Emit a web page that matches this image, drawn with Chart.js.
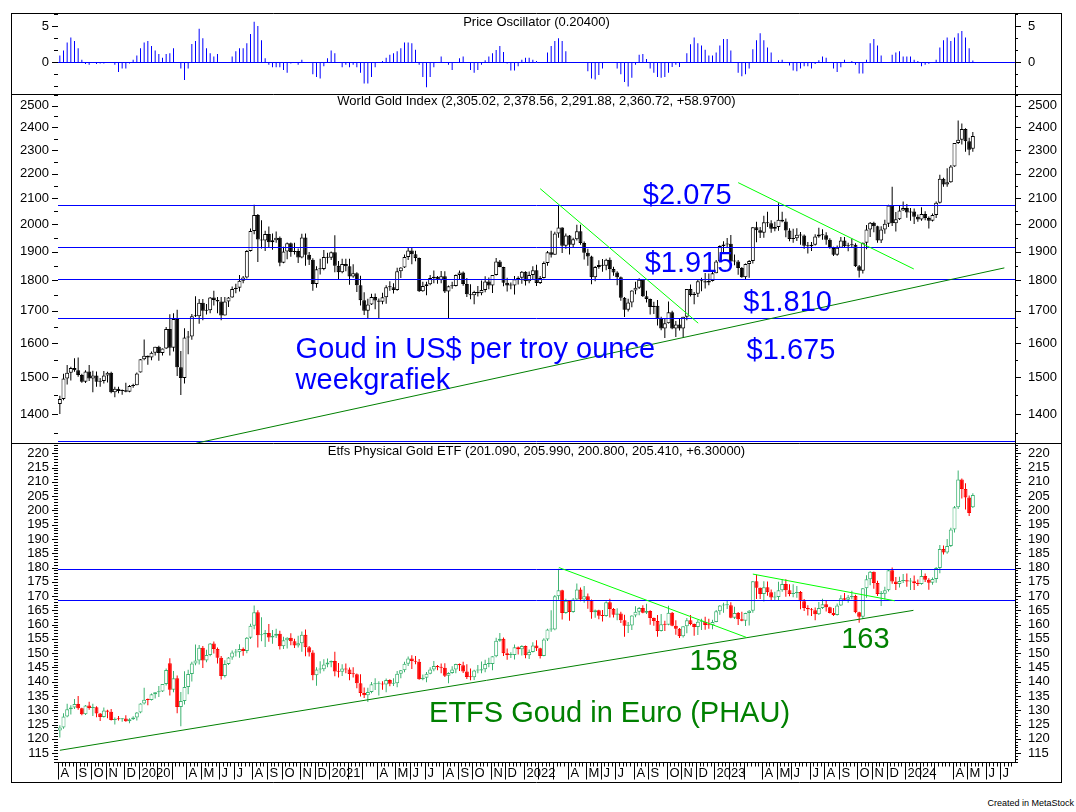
<!DOCTYPE html>
<html>
<head>
<meta charset="utf-8">
<script src="https://cdn.jsdelivr.net/npm/chart.js@4.4.1/dist/chart.umd.min.js"></script>
<style>
  body { margin: 0; background: #fff; width: 1076px; height: 812px; overflow: hidden; position: relative; }
  canvas { position: absolute; left: 11px; }
  #osc { top: 13px; }
  #gold { top: 94px; }
  #etf { top: 443px; }
  #credit { position: absolute; right: 2px; top: 798px; font: 9px "Liberation Sans", Arial, sans-serif; color: #000; }
</style>
</head>
<body>
<canvas id="osc" width="1051" height="81"></canvas>
<canvas id="gold" width="1051" height="349"></canvas>
<canvas id="etf" width="1051" height="340"></canvas>
<div id="credit">Created in MetaStock</div>
<script>
const FONT = '"Liberation Sans", Arial, sans-serif';

// weekly bars, first one is the week ending 2 Aug 2019
const firstWeek = '2019-08-02';
const weekCount = 261;
const monthLetters = ['J', 'F', 'M', 'A', 'M', 'J', 'J', 'A', 'S', 'O', 'N', 'D'];

const goldOpen = [
  1427,1440,1497,1513,1527,1520,1507,1488,1517,1497,1505,1488,1490,1505,1513,1459,1468,1462,1464,1460,1476,1478,
  1514,1552,1562,1557,1571,1589,1570,1584,1643,1586,1674,1529,1498,1617,1620,1683,1683,1726,1700,1702,1743,1735,1730,1685,1730,1743,1771,1775,1799,1810,1902,1975,2035,1944,1940,1964,1934,1941,1950,1861,1900,1930,1899,1902,1879,1951,1889,1871,1788,1838,1839,1881,
  1878,1898,1850,1828,1856,1848,1813,1824,1784,1734,1700,1720,1745,1733,1729,1744,1777,1777,1768,1831,1844,1881,1904,1891,1877,1764,1781,1787,1808,1812,1802,1814,1763,1780,1781,1818,1827,1788,1754,1750,1761,1757,1768,1796,1783,1818,1865,1846,1792,1783,1783,1804,1809,
  1829,1797,1818,1835,1791,1808,1860,1898,1889,1966,1988,1921,1958,1925,1945,1974,1931,1896,1883,1811,1846,1853,1850,1871,1839,1827,1811,1742,1703,1727,1766,1775,1802,1747,1738,1712,1716,1675,1644,1661,1695,1644,1657,1644,1681,1771,1751,1755,1797,1797,1793,1798,
  1824,1865,1920,1926,1928,1865,1865,1842,1811,1856,1867,1989,1978,1969,2008,2004,1983,1990,2017,2011,1977,1946,1948,1961,1958,1921,1919,1925,1955,1962,1959,1943,1913,1889,1914,1940,1919,1923,1925,1848,1833,1932,1981,2006,1993,1940,1981,2002,2072,2004,2019,2053,
  2062,2045,2049,2029,2018,2039,2024,2013,2035,2083,2179,2155,2165,2230,2330,2344,2392,2338,2305
];
const goldHigh = [
  1449,1510,1535,1530,1555,1557,1510,1520,1535,1519,1517,1498,1518,1516,1516,1474,1474,1466,1485,1479,1482,1514,
  1553,1611,1563,1575,1589,1592,1584,1649,1689,1692,1703,1576,1645,1637,1690,1747,1738,1738,1722,1745,1765,1745,1745,1745,1745,1779,1789,1818,1815,1906,1984,2075,2039,2015,1976,1992,1966,1973,1955,1917,1933,1933,1932,1911,1965,1966,1899,1876,1848,1875,1906,1896,
  1900,1959,1867,1875,1875,1875,1855,1828,1816,1760,1739,1755,1756,1740,1759,1784,1797,1790,1843,1845,1890,1913,1916,1903,1879,1795,1795,1818,1834,1815,1832,1831,1783,1795,1820,1834,1830,1808,1787,1765,1781,1800,1814,1810,1818,1877,1870,1847,1809,1793,1815,1814,1832,
  1831,1830,1848,1854,1815,1865,1902,1976,1972,2070,1989,1966,1960,1950,1998,1998,1936,1910,1885,1849,1869,1874,1875,1879,1847,1831,1813,1745,1739,1767,1795,1807,1804,1765,1740,1729,1735,1681,1676,1730,1700,1668,1675,1681,1771,1786,1761,1804,1809,1825,1823,1833,
  1870,1923,1937,1949,1960,1890,1870,1846,1858,1870,1990,2010,1990,2032,2048,2015,2010,2081,2048,2022,1985,1983,1985,1971,1962,1935,1935,1963,1987,1982,1970,1948,1917,1922,1953,1953,1932,1947,1930,1853,1933,1997,2009,2010,1995,1993,2017,2075,2146,2047,2070,2088,
  2078,2062,2060,2037,2065,2050,2030,2041,2088,2195,2183,2222,2236,2330,2431,2417,2396,2353,2379
];
const goldLow = [
  1400,1437,1480,1491,1516,1502,1485,1484,1490,1459,1474,1474,1483,1486,1456,1445,1456,1452,1459,1459,1471,1478,
  1514,1549,1536,1549,1563,1548,1563,1582,1563,1575,1504,1451,1483,1567,1610,1680,1659,1670,1688,1692,1717,1692,1670,1685,1712,1742,1757,1763,1790,1806,1900,1963,1863,1911,1902,1916,1907,1932,1848,1859,1873,1882,1890,1860,1876,1850,1853,1765,1775,1820,1835,1858,
  1870,1828,1803,1824,1831,1785,1809,1761,1717,1687,1676,1719,1705,1677,1721,1723,1765,1756,1765,1808,1842,1870,1855,1866,1761,1762,1750,1784,1790,1789,1790,1758,1677,1772,1779,1802,1782,1745,1737,1721,1746,1750,1760,1770,1758,1817,1845,1780,1763,1770,1753,1786,1789,
  1783,1790,1805,1781,1788,1806,1850,1879,1889,1950,1895,1910,1890,1915,1940,1925,1872,1850,1787,1797,1840,1829,1835,1805,1816,1784,1732,1680,1698,1711,1754,1771,1745,1727,1688,1690,1654,1639,1615,1660,1642,1618,1638,1616,1670,1746,1721,1745,1764,1773,1784,1796,
  1824,1865,1896,1913,1862,1852,1819,1809,1804,1809,1858,1934,1949,1950,1990,1969,1974,1976,2008,1952,1937,1932,1938,1925,1910,1893,1902,1922,1950,1943,1925,1910,1884,1885,1914,1915,1901,1913,1846,1810,1823,1908,1953,1970,1932,1931,1965,1990,1994,1973,2016,2052,
  2025,2013,2001,2010,2013,2015,1984,2011,2024,2080,2146,2146,2163,2228,2326,2324,2292,2277,2292
];
const goldClose = [
  1440,1497,1513,1527,1520,1507,1488,1517,1497,1505,1488,1490,1505,1513,1459,1468,1462,1464,1460,1476,1478,1511,
  1552,1562,1557,1571,1589,1570,1584,1643,1586,1674,1529,1498,1617,1620,1683,1683,1726,1700,1702,1743,1735,1730,1685,1730,1743,1771,1775,1799,1810,1902,1975,2035,1944,1940,1964,1934,1941,1950,1861,1900,1930,1899,1902,1879,1951,1889,1871,1788,1838,1839,1881,1878,
  1898,1850,1828,1856,1848,1813,1824,1784,1734,1700,1720,1745,1733,1729,1744,1777,1777,1768,1831,1844,1881,1904,1891,1877,1764,1781,1787,1808,1812,1802,1814,1763,1780,1781,1818,1827,1788,1754,1750,1761,1757,1768,1796,1783,1818,1865,1846,1792,1783,1783,1804,1809,1829,
  1797,1818,1835,1791,1808,1860,1898,1889,1966,1988,1921,1958,1925,1945,1974,1931,1896,1883,1811,1846,1853,1850,1871,1839,1827,1811,1742,1703,1727,1766,1775,1802,1747,1738,1712,1716,1675,1644,1661,1695,1644,1657,1644,1681,1771,1751,1755,1797,1797,1793,1798,1824,
  1865,1920,1926,1928,1865,1865,1842,1811,1856,1867,1989,1978,1969,2008,2004,1983,1990,2017,2011,1977,1946,1948,1961,1958,1921,1919,1925,1955,1962,1959,1943,1913,1889,1914,1940,1919,1923,1925,1848,1833,1932,1981,2006,1993,1940,1981,2002,2072,2004,2019,2053,2062,
  2045,2049,2029,2018,2039,2024,2013,2035,2083,2179,2155,2165,2230,2330,2344,2392,2338,2301,2361
];

const etfOpen = [
  122.9,124.0,127.8,130.4,131.0,132.2,130.7,128.6,131.7,130.8,131.1,128.9,127.7,129.9,129.5,126.6,127.0,126.9,127.1,126.2,126.9,127.5,
  129.2,132.4,133.7,133.6,135.6,136.3,136.6,139.2,146.5,137.2,141.2,131.2,133.3,138.2,142.7,146.4,147.4,151.9,147.4,149.4,153.4,151.5,148.4,142.0,146.2,148.5,150.2,150.3,151.5,150.8,155.4,159.6,164.3,156.3,156.6,157.1,155.5,156.1,156.8,152.4,154.5,155.4,154.2,152.7,153.5,156.5,152.1,150.2,142.3,144.3,144.4,146.0,
  146.7,147.3,143.6,143.5,144.6,144.3,142.7,142.6,139.5,136.1,135.3,136.4,139.1,139.3,139.4,139.0,140.6,139.3,139.5,142.8,144.0,146.3,148.1,147.3,147.0,140.9,141.4,142.8,144.3,145.5,145.1,144.9,142.1,143.1,144.3,146.2,145.8,143.6,141.7,141.6,143.9,143.9,144.4,146.2,146.2,148.9,154.4,155.1,150.0,149.4,149.4,152.1,151.4,
  152.5,149.3,150.4,152.7,151.7,149.0,154.8,158.3,158.3,169.9,172.0,164.1,168.4,164.4,168.8,172.3,168.8,169.9,168.5,164.3,165.0,163.1,163.0,167.8,165.5,163.5,163.9,161.5,159.6,159.7,163.2,164.5,165.8,164.2,164.8,162.3,161.3,157.8,160.1,160.0,164.2,159.6,158.6,155.9,159.4,161.5,160.2,159.2,161.0,161.0,159.9,159.8,
  160.9,164.7,166.7,166.8,166.8,162.4,164.1,161.9,161.4,164.1,164.9,175.2,172.9,170.7,173.1,171.3,169.5,169.7,172.0,174.2,172.0,170.7,171.0,171.4,168.2,165.8,165.4,165.0,163.6,165.8,167.1,166.1,164.1,163.4,166.7,169.2,168.7,169.6,170.0,164.3,162.8,172.7,175.9,178.5,174.6,170.7,170.8,172.0,179.0,175.1,174.2,175.3,
  175.5,175.1,175.2,174.5,174.2,177.0,175.7,174.7,176.0,179.8,186.5,185.3,187.5,193.3,201.1,210.8,207.5,204.5,201.09
];
const etfHigh = [
  124.8,129.0,132.3,131.8,134.0,135.0,130.9,131.9,133.0,132.3,131.4,129.1,131.0,130.2,130.5,127.5,128.0,127.3,128.3,127.2,127.9,129.4,
  132.5,137.9,134.1,135.9,136.3,138.5,139.2,144.6,148.2,143.8,142.2,136.4,143.7,144.2,147.0,153.0,152.9,152.5,151.2,153.6,154.1,152.0,149.0,147.5,148.7,150.9,151.5,153.1,152.0,155.7,160.3,166.7,165.0,162.6,158.1,160.2,158.1,158.6,157.9,155.8,155.6,157.0,155.1,156.1,157.6,158.3,152.5,151.0,145.1,147.2,147.9,148.1,
  147.4,150.5,146.6,146.1,146.4,145.0,145.1,142.9,142.6,138.0,137.9,139.9,141.2,140.2,140.2,141.1,140.9,141.2,143.8,144.1,147.0,148.8,149.3,149.0,148.0,142.5,143.4,145.1,147.3,145.9,146.4,146.5,143.3,145.4,146.3,146.4,147.0,146.1,144.6,144.2,145.9,147.1,147.7,148.4,148.9,155.4,157.1,155.5,151.6,150.3,153.0,152.3,152.8,
  152.7,151.3,153.8,154.5,151.9,155.2,158.6,165.0,170.4,179.6,172.2,169.1,168.6,169.3,174.4,173.0,173.5,170.9,168.8,165.3,165.2,165.1,168.2,169.1,165.8,165.7,164.5,163.5,160.9,163.3,166.4,166.2,166.8,167.3,165.0,162.5,163.4,163.7,161.4,166.6,164.4,161.5,158.8,159.4,162.3,163.4,160.4,161.6,162.1,162.8,162.1,161.7,
  165.1,166.9,167.7,168.6,167.8,166.3,164.4,164.5,164.2,165.1,175.3,177.5,173.0,175.2,175.1,172.3,171.5,175.0,176.0,175.9,174.1,174.1,173.5,171.8,169.0,166.8,165.8,166.0,167.9,169.1,168.4,166.3,165.8,167.4,170.3,171.1,170.4,171.9,170.5,164.5,172.8,177.3,178.8,178.6,175.4,171.8,173.3,179.3,180.0,176.7,176.8,177.7,
  177.9,176.3,177.2,175.8,179.2,177.9,176.2,176.5,180.2,187.9,187.7,190.0,193.9,201.5,214.0,211.2,209.5,205.2,205.99
];
const etfLow = [
  120.5,123.5,127.6,128.5,130.5,130.2,128.3,128.4,130.2,128.0,127.6,126.3,127.5,127.2,126.4,125.0,126.4,126.0,126.0,125.5,126.6,126.4,
  129.0,132.0,131.8,133.4,134.1,134.7,136.4,138.7,135.2,136.3,129.0,124.4,132.0,135.6,140.1,145.8,146.0,144.8,146.8,148.9,149.9,146.4,140.8,141.5,145.9,147.7,148.8,148.4,149.1,150.0,155.0,158.4,152.0,154.2,152.2,154.0,153.3,155.3,151.3,151.5,151.6,152.8,151.8,152.0,150.5,148.9,148.8,140.5,138.6,142.9,143.7,145.1,
  145.1,141.9,141.5,142.0,143.0,140.5,141.5,137.7,134.8,134.3,132.9,136.0,137.1,135.2,137.2,136.3,138.4,138.5,138.1,141.2,143.3,145.5,144.5,146.1,140.7,140.5,139.8,142.6,143.7,144.0,143.0,141.7,139.5,142.8,143.0,143.8,143.1,141.0,140.5,140.6,143.0,143.0,143.3,145.1,144.0,148.6,154.0,149.0,147.7,148.3,147.8,149.5,149.2,
  148.2,148.0,150.2,150.8,148.1,148.9,154.3,157.5,158.0,168.7,161.8,163.8,161.4,164.2,168.5,168.2,167.7,165.6,162.1,162.4,161.9,161.1,162.8,162.5,162.5,161.5,160.6,155.8,157.1,158.1,162.6,163.3,164.0,163.7,160.0,159.6,155.8,157.6,157.8,159.8,159.4,156.5,155.3,155.5,157.0,159.8,156.1,156.4,158.1,158.2,158.6,158.4,
  160.8,163.5,164.2,165.5,162.2,162.0,159.9,161.2,159.5,159.7,164.2,169.0,169.0,168.1,170.1,168.3,168.4,168.6,171.5,169.8,169.9,169.6,169.4,165.4,164.8,163.2,163.0,161.5,163.4,165.5,164.6,163.9,163.0,163.2,166.5,168.3,167.7,168.9,164.0,160.7,162.0,169.4,173.8,172.6,170.0,166.5,168.8,171.6,174.3,172.1,173.0,174.6,
  173.3,172.1,172.1,173.5,174.0,174.9,172.2,174.0,174.7,178.0,184.6,184.8,187.2,192.3,200.5,204.2,200.3,198.0,200.80
];
const etfClose = [
  124.0,127.8,130.4,131.0,132.2,130.7,128.6,131.7,130.8,131.1,128.9,127.7,129.9,129.5,126.6,127.0,126.9,127.1,126.2,126.9,127.5,129.2,
  132.4,133.7,133.6,135.6,136.3,136.6,139.2,144.1,137.2,141.2,131.2,133.3,138.2,142.7,146.4,147.4,151.9,147.4,149.4,153.4,151.5,148.4,142.0,146.2,148.5,150.2,150.3,151.5,150.8,155.4,159.6,164.3,156.3,156.6,157.1,155.5,156.1,156.8,152.4,154.5,155.4,154.2,152.7,153.5,156.5,152.1,150.2,142.3,144.3,144.4,146.0,146.7,
  147.3,143.6,143.5,144.6,144.3,142.7,142.6,139.5,136.1,135.3,136.4,139.1,139.3,139.4,139.0,140.6,139.3,139.5,142.8,144.0,146.3,148.1,147.3,147.0,140.9,141.4,142.8,144.3,145.5,145.1,144.9,142.1,143.1,144.3,146.2,145.8,143.6,141.7,141.6,143.9,143.9,144.4,146.2,146.2,148.9,154.4,155.1,150.0,149.4,149.4,152.1,151.4,152.5,
  149.3,150.4,152.7,151.7,149.0,154.8,158.3,158.3,169.9,172.0,164.1,168.4,164.4,168.8,172.3,168.8,169.9,168.5,164.3,165.0,163.1,163.0,167.8,165.5,163.5,163.9,161.5,159.6,159.7,163.2,164.5,165.8,164.2,164.8,162.3,161.3,157.8,160.1,160.0,164.2,159.6,158.6,155.9,159.4,161.5,160.2,159.2,161.0,161.0,159.9,159.8,160.9,
  164.7,166.7,166.8,166.8,162.4,164.1,161.9,161.4,164.1,164.9,175.2,172.9,170.7,173.1,171.3,169.5,169.7,172.0,174.2,172.0,170.7,171.0,171.4,168.2,165.8,165.4,165.0,163.6,165.8,167.1,166.1,164.1,163.4,166.7,169.2,168.7,169.6,170.0,164.3,162.8,172.7,175.9,178.5,174.6,170.7,170.8,172.0,179.0,175.1,174.2,175.3,175.5,
  175.1,175.2,174.5,174.2,177.0,175.7,174.7,176.0,179.8,186.5,185.3,187.5,193.3,201.1,210.8,207.5,204.5,199.1,205.41
];

const oscValues = [
  0.9,1.6,2.7,3.4,2.9,1.9,0.3,-0.3,-0.4,0,
  -0.3,-0.2,-0.2,0,0,-0.4,-1.4,-0.9,-0.9,-0.2,
  0.3,0.9,1.9,2.7,2.9,2.2,1.6,1.1,0.6,1.1,
  1.2,1.9,0,-0.9,-2.5,-0.9,2.5,2.9,4.6,3.3,
  1.9,1.2,0.75,1.1,0,0,-0.1,0.75,1.5,1.9,
  1.9,2.6,3.9,5.6,5.0,3.0,0.5,-0.4,-0.75,-0.75,
  -0.75,-1.1,-1.5,-0.2,0,-0.4,0.3,0,0,-1.7,
  -2.1,-2.3,-0.6,0.5,1.6,1.2,0,-0.75,-0.4,-0.75,
  -0.4,-0.75,-1.5,-3.0,-3.0,-2.1,-0.75,0,0.15,0.6,
  1.0,1.2,1.5,1.9,2.7,2.7,2.6,1.7,-0.4,-2.1,
  -3.5,-2.1,-0.75,0,0.75,0,-0.4,-1.1,0,0.5,
  0.75,0,-1.1,-1.5,-1.1,-0.4,0.25,0.75,1.2,1.65,
  2.2,1.4,-0.2,-1.2,-1.2,-0.6,0.3,0.6,0.6,0.3,
  0.15,0,0,1.3,2.2,2.9,3.3,2.9,1.5,0,
  0,-0.15,0,0,-1.3,-2.3,-2.45,-1.8,-0.9,0,
  0,0,-0.9,-1.7,-2.8,-3.4,-2.2,-0.4,1.0,1.1,
  0.4,-0.9,-1.5,-2.1,-2.2,-2.1,-1.5,-0.7,-0.4,-0.7,
  0,1.2,2.45,3.4,2.6,2.3,1.7,0.9,0.9,1.3,
  2.3,3.2,3.2,1.6,0,-1.5,-2.0,-1.7,-0.9,1.75,
  3.0,4.0,3.0,2.0,1.3,0,0.25,0.3,0,-0.5,
  -1.2,-1.3,-0.9,-0.6,-0.6,-0.9,-0.3,0.25,0.75,0.6,
  0,-0.9,-1.4,-0.75,0.3,0,0.15,-0.4,-1.6,-1.6,
  0.3,2.6,3.2,2.3,0.9,0,0,1.0,1.3,1.5,
  0.75,0.75,0.75,0.3,0.15,-0.6,-0.4,-0.25,-0.15,0.3,
  2.0,3.0,3.4,2.9,3.4,4.0,4.3,3.4,1.9,0.2
];

// axis labels
const oscTicks = [0, 5];
const goldTicks = [1400, 1500, 1600, 1700, 1800, 1900, 2000, 2100, 2200, 2300, 2400, 2500];
const etfTicks = [115, 120, 125, 130, 135, 140, 145, 150, 155, 160, 165, 170, 175, 180, 185, 190, 195, 200, 205, 210, 215, 220];

// drawn-in support / resistance levels and trend lines (bar index, value)
const goldLevels = [2075, 1915, 1803, 1678, 1330];
const etfLevels = [179.5, 168.6];
const DARK = '#008000', LIGHT = '#00FF00', BLUE = '#0000FF';
const goldTrends = [
  { x1: 37.2, y1: 1325.5, x2: 257.6, y2: 1842.7, color: DARK },
  { x1: 131.0, y1: 2138.6, x2: 174.1, y2: 1661, color: LIGHT },
  { x1: 185.0, y1: 2163, x2: 232.9, y2: 1839, color: LIGHT }
];
const etfTrends = [
  { x1: 0, y1: 116.0, x2: 232.8, y2: 165.0, color: DARK },
  { x1: 136.1, y1: 180.0, x2: 187.3, y2: 155.5, color: LIGHT },
  { x1: 189.0, y1: 177.7, x2: 227.7, y2: 168.35, color: LIGHT }
];
const goldNotes = [
  { text: '$2.075', x: 159.0, y: 2077 },
  { text: '$1.915', x: 159.5, y: 1828 },
  { text: '$1.810', x: 186.4, y: 1698 },
  { text: '$1.675', x: 187.3, y: 1553 },
  { text: 'Goud in US$ per troy ounce', x: 64.3, y: 1556 },
  { text: 'weekgrafiek', x: 64.3, y: 1468 }
];
const etfNotes = [
  { text: '158', x: 171.7, y: 144.1 },
  { text: '163', x: 213.1, y: 151.8 },
  { text: 'ETFS Goud in Euro (PHAU)', x: 100.7, y: 125.9 }
];

const weeks = [];
for (let i = 0; i < weekCount; i++) {
  const d = new Date(Date.parse(firstWeek + 'T00:00:00Z') + i * 7 * 86400000);
  weeks.push(d.toISOString().slice(0, 10));
}

function steps(from, to, step) {
  const out = [];
  for (let v = from; v <= to + 1e-9; v += step) out.push(+v.toFixed(4));
  return out;
}

function yAxis(pos, type, min, max, labels) {
  return {
    type: type,
    position: pos,
    min: min,
    max: max,
    grid: { display: false, drawTicks: false },
    border: { display: pos === 'right', color: '#000', width: 1 },
    afterBuildTicks: function (s) { s.ticks = labels.map(v => ({ value: v })); },
    afterFit: function (s) { s.width = 47; s.paddingTop = 0; s.paddingBottom = 0; },
    ticks: {
      autoSkip: false,
      color: '#000',
      font: { family: FONT, size: 13 },
      padding: pos === 'left' ? 9 : 13,
      callback: v => String(v)
    }
  };
}

function candles(o, h, l, c, up, down, upFill) {
  const isUp = o.map((v, i) => c[i] >= v);
  return [
    {
      data: l.map((v, i) => [v, h[i]]),
      backgroundColor: isUp.map(u => u ? up : down),
      barThickness: 1, grouped: false, inflateAmount: 0, order: 2
    },
    {
      data: o.map((v, i) => [v, c[i]]),
      backgroundColor: isUp.map(u => u ? upFill : down),
      borderColor: isUp.map(u => u ? up : down),
      borderWidth: 1, borderSkipped: false, minBarLength: 1,
      barThickness: 4, grouped: false, inflateAmount: 0, order: 1
    }
  ];
}

function line(ctx, x1, y1, x2, y2, color) {
  ctx.strokeStyle = color;
  ctx.beginPath();
  ctx.moveTo(x1, y1);
  ctx.lineTo(x2, y2);
  ctx.stroke();
}

function panel(cfg) {
  return {
    id: 'panel',
    afterDatasetsDraw(chart) {
      const { ctx, chartArea: a, scales } = chart;
      const x = scales.x, y = scales.y;
      ctx.save();
      ctx.beginPath();
      ctx.rect(a.left, a.top, a.right - a.left, a.bottom - a.top);
      ctx.clip();
      ctx.lineWidth = 1;
      (cfg.levels || []).forEach(v => {
        const py = Math.round(y.getPixelForValue(v)) + 0.5;
        line(ctx, a.left, py, a.right, py, BLUE);
      });
      (cfg.trends || []).forEach(t => {
        line(ctx, x.getPixelForValue(t.x1), y.getPixelForValue(t.y1),
          x.getPixelForValue(t.x2), y.getPixelForValue(t.y2), t.color);
      });
      ctx.font = '29px ' + FONT;
      ctx.textAlign = 'left';
      ctx.textBaseline = 'alphabetic';
      ctx.fillStyle = cfg.noteColor;
      (cfg.notes || []).forEach(n => {
        ctx.fillText(n.text, x.getPixelForValue(n.x), y.getPixelForValue(n.y));
      });
      ctx.restore();
    },
    afterDraw(chart) {
      const { ctx, chartArea: a, scales } = chart;
      const W = chart.width, H = chart.height;
      const y = scales.y;
      ctx.save();
      ctx.lineWidth = 1;
      line(ctx, 0, 0.5, W, 0.5, '#000');
      line(ctx, 0.5, 0, 0.5, H, '#000');
      line(ctx, W - 0.5, 0, W - 0.5, H, '#000');
      cfg.labels.forEach(v => {
        const py = Math.round(y.getPixelForValue(v)) + 0.5;
        line(ctx, a.left - 6, py, a.left, py, '#000');
        line(ctx, a.right, py, a.right + 6, py, '#000');
      });
      cfg.minor.forEach(v => {
        if (v < y.min || v > y.max) return;
        const py = Math.round(y.getPixelForValue(v)) + 0.5;
        line(ctx, a.left - 4, py, a.left, py, '#000');
        line(ctx, a.right, py, a.right + 3, py, '#000');
      });
      ctx.fillStyle = '#000';
      ctx.font = '13px ' + FONT;
      ctx.textAlign = 'center';
      ctx.textBaseline = 'middle';
      ctx.fillText(cfg.title, (a.left + a.right) / 2, cfg.titleY);

      if (cfg.timeAxis) {
        const x = scales.x;
        const step = x.getPixelForValue(1) - x.getPixelForValue(0);
        const base = Math.round(a.bottom) + 0.5;
        line(ctx, a.left, base, a.right, base, '#000');
        line(ctx, 0, H - 0.5, W, H - 0.5, '#000');
        ctx.textAlign = 'left';
        weeks.forEach((w, i) => {
          const bx = Math.round(x.getPixelForValue(i) - step / 2) + 0.5;
          const m = +w.slice(5, 7) - 1;
          const prev = i > 0 ? +weeks[i - 1].slice(5, 7) - 1 : -1;
          if (m !== prev) {
            line(ctx, bx, base, bx, base + 17, '#000');
            if (m !== 1 && m !== 2) {
              ctx.fillText(m === 0 ? w.slice(0, 4) : monthLetters[m], bx + 2, base + 11);
            }
          } else {
            line(ctx, bx, base, bx, base + 4, '#000');
          }
        });
      }
      ctx.restore();
    }
  };
}

function makeChart(id, datasets, yType, min, max, labels, cfg, bottomPad) {
  return new Chart(document.getElementById(id), {
    type: 'bar',
    data: { labels: weeks, datasets: datasets },
    options: {
      responsive: false,
      maintainAspectRatio: false,
      animation: false,
      events: [],
      layout: { padding: { left: 0, right: 0, top: 0, bottom: bottomPad } },
      plugins: { legend: { display: false }, tooltip: { enabled: false } },
      scales: {
        x: { type: 'category', offset: true, display: false },
        y: yAxis('left', yType, min, max, labels),
        y2: yAxis('right', yType, min, max, labels)
      }
    },
    plugins: [panel(cfg)]
  });
}

function buildAll() {
  const oscSet = {
    data: oscValues,
    backgroundColor: BLUE,
    barThickness: 1, grouped: false, inflateAmount: 0
  };
  const oscZero = {
    id: 'zero',
    beforeDatasetsDraw(chart) {
      const { ctx, chartArea: a } = chart;
      const py = Math.round(chart.scales.y.getPixelForValue(0)) + 0.5;
      ctx.save();
      ctx.lineWidth = 1;
      line(ctx, a.left, py, a.right, py, BLUE);
      ctx.restore();
    }
  };
  const osc = makeChart('osc', [oscSet], 'linear', -4.45, 6.8, oscTicks, {
    labels: oscTicks, minor: steps(-5, 7, 5 / 3), title: 'Price Oscillator (0.20400)', titleY: 9
  }, 0);
  osc.config.plugins.push(oscZero);
  osc.update();

  makeChart('gold', candles(goldOpen, goldHigh, goldLow, goldClose, '#000000', '#000000', '#FFFFFF'),
    'logarithmic', 1326, 2555, goldTicks, {
      labels: goldTicks, minor: steps(1350, 2550, 100),
      title: 'World Gold Index (2,305.02, 2,378.56, 2,291.88, 2,360.72, +58.9700)', titleY: 7,
      levels: goldLevels, trends: goldTrends, notes: goldNotes, noteColor: BLUE
    }, 0);

  makeChart('etf', candles(etfOpen, etfHigh, etfLow, etfClose, '#3CB371', '#FF0000', '#FFFFFF'),
    'linear', 111.9, 223.6, etfTicks, {
      labels: etfTicks, minor: steps(112, 223, 1),
      title: 'Etfs Physical Gold ETF (201.090, 205.990, 200.800, 205.410, +6.30000)', titleY: 8.5,
      levels: etfLevels, trends: etfTrends, notes: etfNotes, noteColor: DARK, timeAxis: true
    }, 21);
}

document.addEventListener('DOMContentLoaded', buildAll);
</script>
</body>
</html>
